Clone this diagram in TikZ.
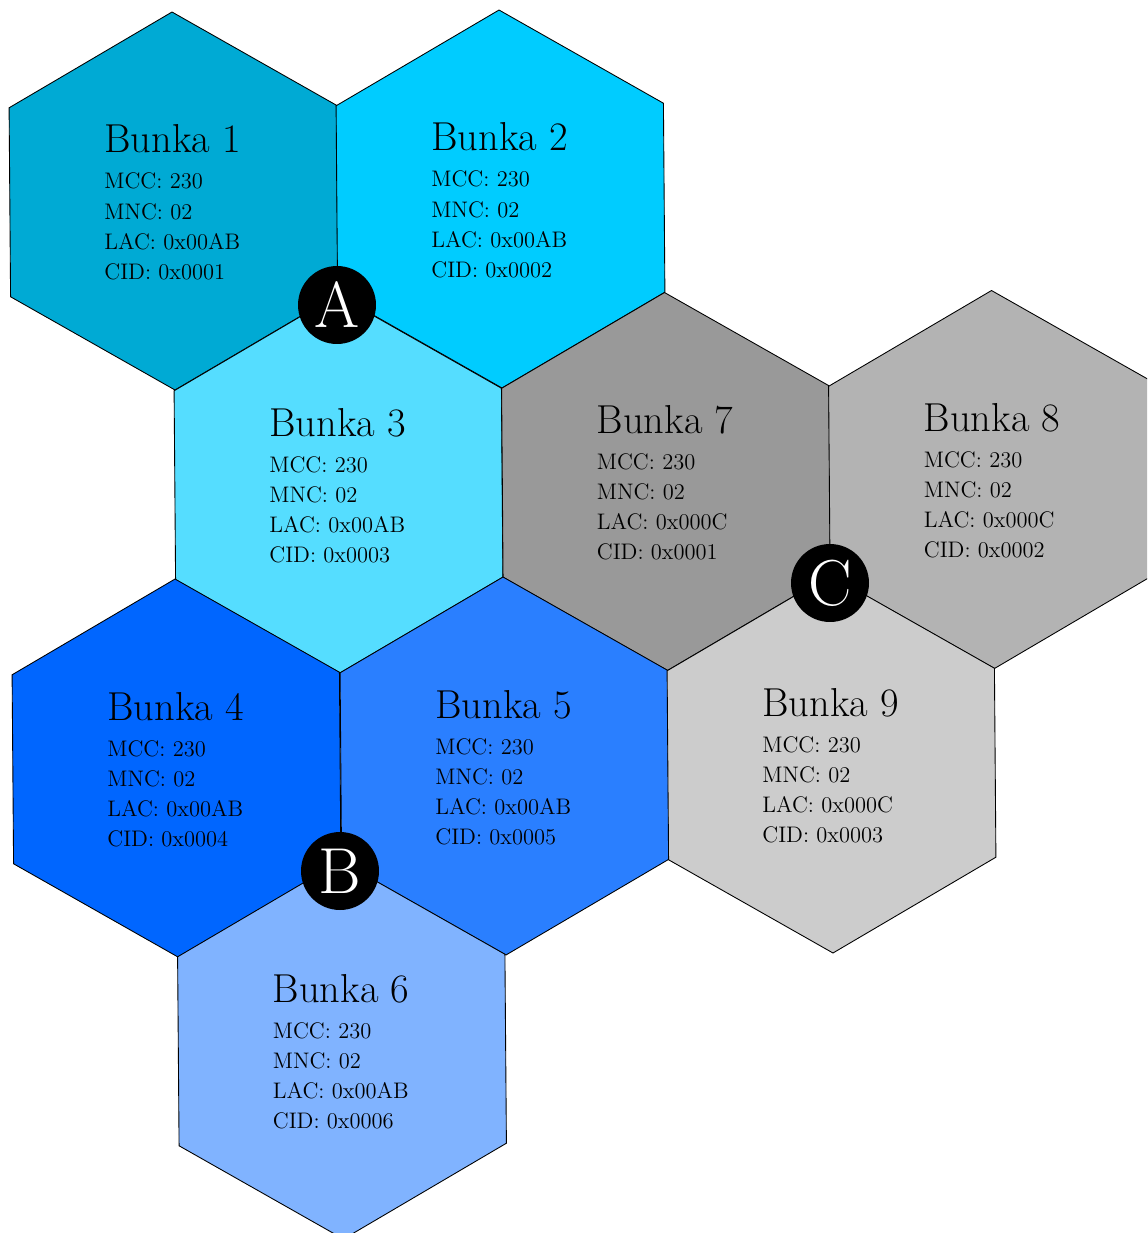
\documentclass[tikz,border=0pt]{standalone}
\usepackage{fontspec}
\definecolor{cOne}{HTML}{00AAD4}
\definecolor{cTwo}{HTML}{00CCFF}
\definecolor{cThree}{HTML}{55DDFF}
\definecolor{cFour}{HTML}{0066FF}
\definecolor{cFive}{HTML}{2A7FFF}
\definecolor{cSix}{HTML}{80B3FF}
\definecolor{cSeven}{HTML}{999999}
\definecolor{cEight}{HTML}{B3B3B3}
\definecolor{cNine}{HTML}{CCCCCC}
\newcommand\hexcell[6]{%
  \draw[cell,fill=#3] (#1,#2) +(-30.45:189) -- +(29.55:189) -- +(89.55:189) -- +(149.55:189) -- +(209.55:189) -- +(269.55:189) -- cycle;
  \node[celltitle] (t#4) at (#1-69.5,#2-48) {Bunka #4};
  \node[info] (m#4) at (#1-69.5,#2-12) {MCC: 230};
  \node[info] (n#4) at (#1-69.5,#2+18) {MNC: 02};
  \node[info] (l#4) at (#1-69.5,#2+48) {LAC: #5};
  \node[info] (c#4) at (#1-69.5,#2+78) {CID: #6};
}
\begin{document}
\begin{tikzpicture}[x=0.02cm,y=-0.02cm,
  cell/.style={draw=black,line width=0.5pt},
  celltitle/.style={anchor=base west,inner sep=0pt,font=\fontsize{23}{27}\selectfont},
  info/.style={anchor=base west,inner sep=0pt,font=\fontsize{12.8}{15}\selectfont},
  marker/.style={circle,fill=black,minimum size=1.56cm,inner sep=0pt,text=white,font=\fontsize{37}{42}\selectfont}]
\useasboundingbox (0,0) rectangle (1147,1233);
\clip (0,0) rectangle (1147,1233);
\hexcell{173.5}{201}{cOne}{1}{0x00AB}{0x0001}
\hexcell{500.5}{199}{cTwo}{2}{0x00AB}{0x0002}
\hexcell{338.5}{484}{cThree}{3}{0x00AB}{0x0003}
\hexcell{666}{481.5}{cSeven}{7}{0x000C}{0x0001}
\hexcell{993}{479.5}{cEight}{8}{0x000C}{0x0002}
\hexcell{176.5}{768}{cFour}{4}{0x00AB}{0x0004}
\hexcell{504.5}{766}{cFive}{5}{0x00AB}{0x0005}
\hexcell{831.5}{764}{cNine}{9}{0x000C}{0x0003}
\hexcell{342}{1050}{cSix}{6}{0x00AB}{0x0006}
\node[marker] (A) at (337,305) {A};
\node[marker] (B) at (340,871) {B};
\node[marker] (C) at (830,583) {C};
\end{tikzpicture}
\end{document}
